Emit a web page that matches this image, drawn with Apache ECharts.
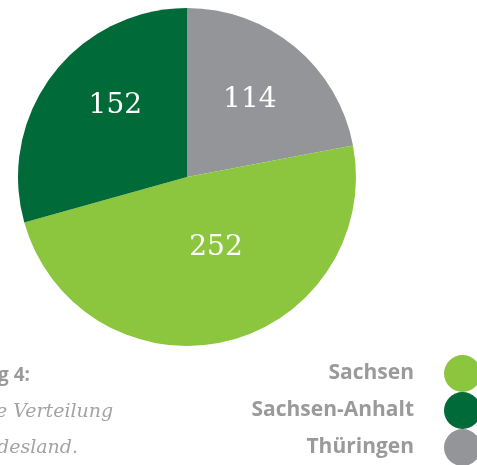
<!DOCTYPE html>
<html>
<head>
<meta charset="utf-8">
<script src="https://cdn.jsdelivr.net/npm/echarts@6/dist/echarts.min.js"></script>
<style>
  html, body { margin: 0; padding: 0; background: #fff; }
  #main { width: 477px; height: 465px; }
</style>
</head>
<body>
<div id="main"></div>
<script>
// Daten: Verteilung nach Bundesland
var laender = ['Thüringen', 'Sachsen', 'Sachsen-Anhalt'];
var anzahl = [114, 252, 152];
var farben = ['#939598', '#8cc63f', '#006b38'];
var legendeReihenfolge = ['Sachsen', 'Sachsen-Anhalt', 'Thüringen'];
var beschriftung = ['g 4:', 'e Verteilung', 'desland.'];

// Feinjustierung der Zahlen im Kreis (nur Layout)
var labelVersatz = { 'Thüringen': [7, -10], 'Sachsen': [9, -14], 'Sachsen-Anhalt': [-2, -18] };

var myChart = echarts.init(document.getElementById('main'));

var daten = laender.map(function (name, i) {
  return {
    name: name,
    value: anzahl[i],
    itemStyle: { color: farben[i] },
    label: { offset: labelVersatz[name] }
  };
});

var option = {
  animation: false,
  legend: {
    data: legendeReihenfolge,
    orient: 'vertical',
    right: -9,
    top: 350,
    height: 140,
    align: 'right',
    icon: 'circle',
    itemWidth: 37,
    itemHeight: 37,
    itemGap: 0,
    selectedMode: false,
    textStyle: {
      color: '#9a9a9a',
      fontFamily: 'Open Sans',
      fontWeight: 'bold',
      fontSize: 21,
      padding: [0, 25, 0, 0]
    }
  },
  graphic: [
    { type: 'text', left: -2, top: 366, style: { text: beschriftung[0], fill: '#9a9a9a', font: 'bold 19px "Open Sans"' } },
    { type: 'text', left: -4, top: 403, style: { text: beschriftung[1], fill: '#a3a3a3', font: 'italic 19px "DejaVu Serif"' } },
    { type: 'text', left: -3, top: 439, style: { text: beschriftung[2], fill: '#a3a3a3', font: 'italic 19px "DejaVu Serif"' } }
  ],
  series: [
    {
      type: 'pie',
      center: [187, 177],
      radius: 169,
      startAngle: 90,
      clockwise: true,
      silent: true,
      label: {
        show: true,
        position: 'inside',
        formatter: '{c}',
        color: '#ffffff',
        fontFamily: 'DejaVu Serif',
        fontSize: 28
      },
      labelLine: { show: false },
      data: daten
    }
  ]
};

myChart.setOption(option);
</script>
</body>
</html>
